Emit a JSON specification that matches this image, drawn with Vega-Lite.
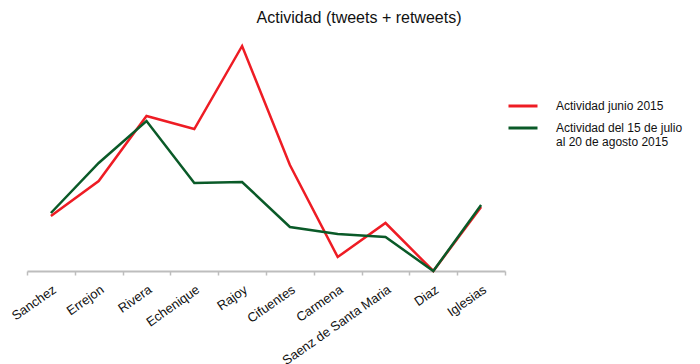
{
  "$schema": "https://vega.github.io/schema/vega-lite/v6.json",
  "autosize": {"type": "none"},
  "width": 478,
  "height": 229,
  "padding": {"left": 27, "top": 42, "right": 195, "bottom": 93},
  "background": "white",
  "config": {
    "font": "Liberation Sans",
    "view": {"stroke": null}
  },
  "title": {
    "text": "Actividad (tweets + retweets)",
    "fontSize": 16,
    "fontWeight": "normal",
    "color": "#111111",
    "anchor": "middle",
    "dx": 93,
    "offset": 15
  },
  "data": {
    "values": [
      {"candidato": "Sanchez", "serie": "Actividad junio 2015", "valor": 55},
      {"candidato": "Errejon", "serie": "Actividad junio 2015", "valor": 90},
      {"candidato": "Rivera", "serie": "Actividad junio 2015", "valor": 155},
      {"candidato": "Echenique", "serie": "Actividad junio 2015", "valor": 142},
      {"candidato": "Rajoy", "serie": "Actividad junio 2015", "valor": 225},
      {"candidato": "Cifuentes", "serie": "Actividad junio 2015", "valor": 106},
      {"candidato": "Carmena", "serie": "Actividad junio 2015", "valor": 14},
      {"candidato": "Saenz de Santa Maria", "serie": "Actividad junio 2015", "valor": 48},
      {"candidato": "Diaz", "serie": "Actividad junio 2015", "valor": 0},
      {"candidato": "Iglesias", "serie": "Actividad junio 2015", "valor": 64},
      {"candidato": "Sanchez", "serie": "Actividad del 15 de julio al 20 de agosto 2015", "valor": 58},
      {"candidato": "Errejon", "serie": "Actividad del 15 de julio al 20 de agosto 2015", "valor": 108},
      {"candidato": "Rivera", "serie": "Actividad del 15 de julio al 20 de agosto 2015", "valor": 150},
      {"candidato": "Echenique", "serie": "Actividad del 15 de julio al 20 de agosto 2015", "valor": 88},
      {"candidato": "Rajoy", "serie": "Actividad del 15 de julio al 20 de agosto 2015", "valor": 89},
      {"candidato": "Cifuentes", "serie": "Actividad del 15 de julio al 20 de agosto 2015", "valor": 44},
      {"candidato": "Carmena", "serie": "Actividad del 15 de julio al 20 de agosto 2015", "valor": 37},
      {"candidato": "Saenz de Santa Maria", "serie": "Actividad del 15 de julio al 20 de agosto 2015", "valor": 34},
      {"candidato": "Diaz", "serie": "Actividad del 15 de julio al 20 de agosto 2015", "valor": 0},
      {"candidato": "Iglesias", "serie": "Actividad del 15 de julio al 20 de agosto 2015", "valor": 66}
    ]
  },
  "mark": {"type": "line", "strokeWidth": 2.5, "clip": false},
  "encoding": {
    "x": {
      "field": "candidato",
      "type": "nominal",
      "sort": null,
      "scale": {"type": "band", "paddingInner": 0, "paddingOuter": 0},
      "axis": {
        "title": null,
        "labelAngle": -35,
        "labelFontSize": 13,
        "labelColor": "#111111",
        "labelPadding": 8,
        "domainColor": "#bdbdbd",
        "domainWidth": 2,
        "tickColor": "#bdbdbd",
        "tickWidth": 1.5,
        "tickSize": 4,
        "tickBand": "extent",
        "grid": false
      }
    },
    "y": {
      "field": "valor",
      "type": "quantitative",
      "scale": {"domain": [0, 229], "nice": false, "zero": true},
      "axis": null
    },
    "color": {
      "field": "serie",
      "type": "nominal",
      "scale": {
        "domain": ["Actividad junio 2015", "Actividad del 15 de julio al 20 de agosto 2015"],
        "range": ["#ee1c24", "#0a5a28"]
      },
      "legend": {
        "title": null,
        "orient": "none",
        "legendX": 480,
        "legendY": 48,
        "symbolType": "stroke",
        "symbolSize": 841,
        "symbolStrokeWidth": 3,
        "labelFontSize": 12,
        "labelColor": "#111111",
        "labelOffset": 17,
        "labelLimit": 300,
        "rowPadding": 0,
        "labelExpr": "datum.label == 'Actividad junio 2015' ? datum.label : ['Actividad del 15 de julio', 'al 20 de agosto 2015']"
      }
    }
  }
}
